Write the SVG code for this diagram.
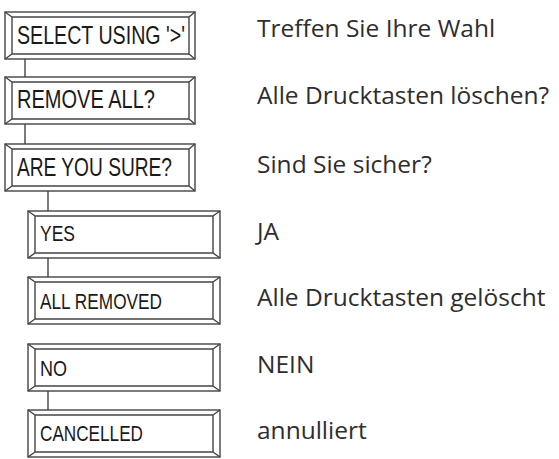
<svg xmlns="http://www.w3.org/2000/svg" width="559" height="459" viewBox="0 0 559 459">
<defs>
<style>
.b path{fill:none;stroke:#444;stroke-width:1.4}
.b rect{fill:#fff;stroke:#444;stroke-width:1.4}
.bta{font-family:"Liberation Sans",Arial,sans-serif;font-size:25.5px;fill:#1a1a1a}
.btb{font-family:"Liberation Sans",Arial,sans-serif;font-size:22px;fill:#1a1a1a}
.lbl{font-family:"Open Sans","Noto Sans",sans-serif;font-size:24.5px;fill:#2e2e2e}
.c line{stroke:#444;stroke-width:1.4}
</style>
</defs>
<rect width="559" height="459" fill="#fff"/>
<g class="c" id="connectors">
<line x1="25" y1="59" x2="25" y2="77"/>
<line x1="25" y1="124" x2="25" y2="144"/>
<line x1="48" y1="191" x2="48" y2="211"/>
<line x1="48" y1="258" x2="48" y2="277"/>
<line x1="48" y1="391" x2="48" y2="410"/>
</g>
<g class="b" id="n1">
<rect x="5" y="12" width="190" height="47"/>
<path d="M12 17H189V54H12Z M5 12L12 17 M195 12L189 17 M5 59L12 54 M195 59L189 54"/>
<text class="bta" x="17" y="44" textLength="168" lengthAdjust="spacingAndGlyphs">SELECT USING '&gt;'</text>
</g>
<g class="b" id="n2">
<rect x="5" y="77" width="190" height="47"/>
<path d="M12 82H189V119H12Z M5 77L12 82 M195 77L189 82 M5 124L12 119 M195 124L189 119"/>
<text class="bta" x="17" y="108" textLength="138" lengthAdjust="spacingAndGlyphs">REMOVE ALL?</text>
</g>
<g class="b" id="n3">
<rect x="5" y="144" width="190" height="47"/>
<path d="M12 149H189V186H12Z M5 144L12 149 M195 144L189 149 M5 191L12 186 M195 191L189 186"/>
<text class="bta" x="17" y="175.5" textLength="155" lengthAdjust="spacingAndGlyphs">ARE YOU SURE?</text>
</g>
<g class="b" id="n4">
<rect x="28" y="211" width="192" height="47"/>
<path d="M35 216H213V253H35Z M28 211L35 216 M220 211L213 216 M28 258L35 253 M220 258L213 253"/>
<text class="btb" x="40" y="240.5" textLength="35" lengthAdjust="spacingAndGlyphs">YES</text>
</g>
<g class="b" id="n5">
<rect x="28" y="277" width="192" height="47"/>
<path d="M35 282H213V319H35Z M28 277L35 282 M220 277L213 282 M28 324L35 319 M220 324L213 319"/>
<text class="btb" x="40" y="308.5" textLength="122" lengthAdjust="spacingAndGlyphs">ALL REMOVED</text>
</g>
<g class="b" id="n6">
<rect x="28" y="344" width="192" height="47"/>
<path d="M35 349H213V386H35Z M28 344L35 349 M220 344L213 349 M28 391L35 386 M220 391L213 386"/>
<text class="btb" x="40" y="375.5" textLength="27" lengthAdjust="spacingAndGlyphs">NO</text>
</g>
<g class="b" id="n7">
<rect x="28" y="410" width="192" height="47"/>
<path d="M35 415H213V452H35Z M28 410L35 415 M220 410L213 415 M28 457L35 452 M220 457L213 452"/>
<text class="btb" x="40" y="440.5" textLength="103" lengthAdjust="spacingAndGlyphs">CANCELLED</text>
</g>
<g id="labels">
<text class="lbl" x="257" y="37">Treffen Sie Ihre Wahl</text>
<text class="lbl" x="257" y="104">Alle Drucktasten löschen?</text>
<text class="lbl" x="257" y="173">Sind Sie sicher?</text>
<text class="lbl" x="257" y="240">JA</text>
<text class="lbl" x="257" y="306">Alle Drucktasten gelöscht</text>
<text class="lbl" x="257" y="373">NEIN</text>
<text class="lbl" x="257" y="439">annulliert</text>
</g>
</svg>
